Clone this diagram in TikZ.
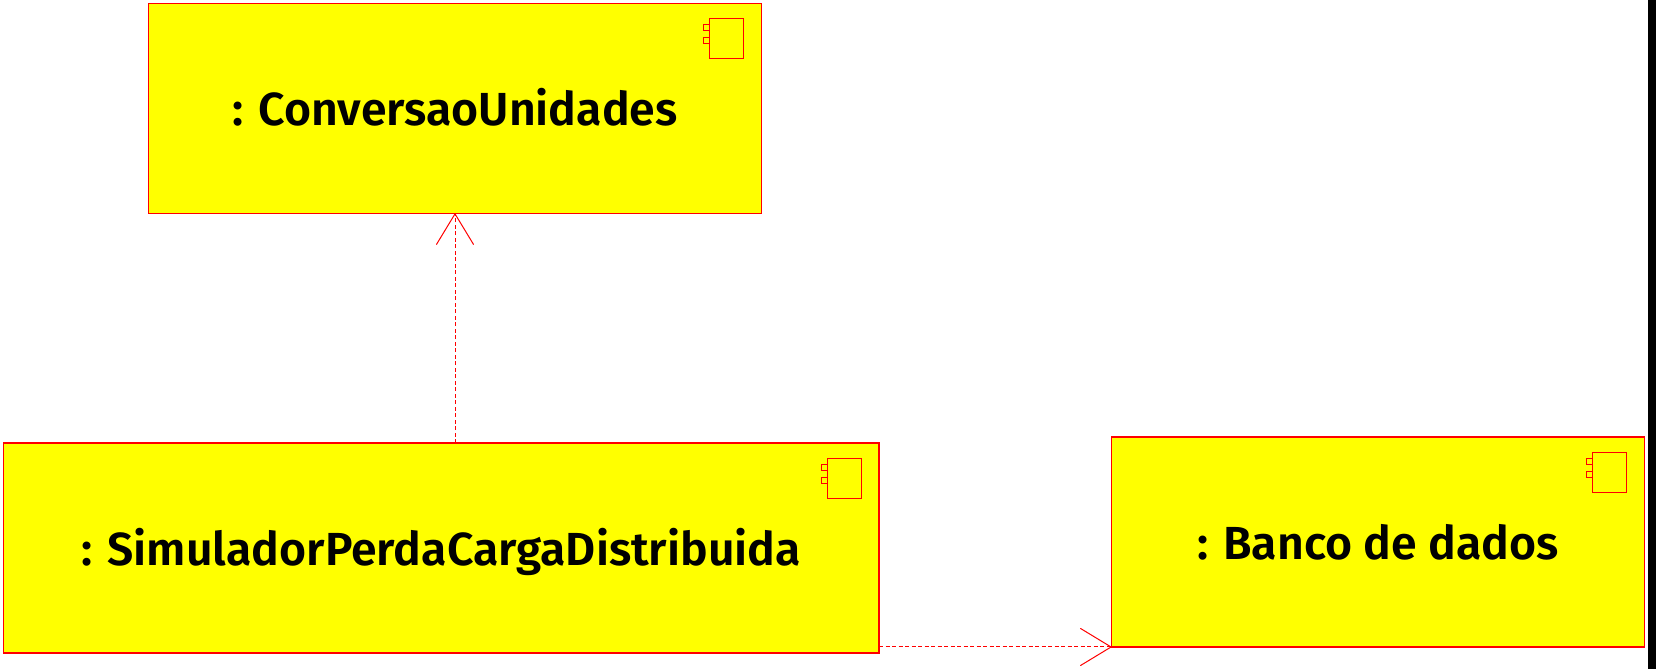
\documentclass[tikz,border=0pt]{standalone}
\usepackage{fontspec}
\setmainfont[BoldFont={Fira Sans SemiBold}]{Fira Sans}
\usetikzlibrary{arrows.meta}
\definecolor{compyellow}{RGB}{255,255,0}
\definecolor{compred}{RGB}{255,0,0}
\tikzset{
    component/.style={draw=compred,fill=compyellow,line width=0.026cm,outer sep=0pt,
        minimum height=4.2cm,text height=0.68cm,text depth=0pt,
        font=\fontsize{26.4}{30}\selectfont\bfseries},
    dependency/.style={draw=compred,line width=0.02cm,dash pattern=on 0.08cm off 0.05cm,
        -{Straight Barb[length=0.61cm,width=0.74cm,round]}},
    compicon/.pic={
        \draw[compred,line width=0.02cm] (-52,15.5) rectangle (-18,55.5);
        \draw[compred,line width=0.02cm] (-58,21.5) rectangle (-52,27.5);
        \draw[compred,line width=0.02cm] (-58,34.5) rectangle (-52,40.5);
    },
}
\begin{document}
\begin{tikzpicture}[x=0.02cm,y=-0.02cm]
\useasboundingbox (0,0) rectangle (1656,669);

% Black strip at the right edge
\fill[black] (1648,0) rectangle (1656,669);

% Components
\node[component,minimum width=12.26cm] (conv) at (455,108.4) {: ConversaoUnidades};
\node[component,minimum width=17.52cm] (sim) at (441.2,548) {: SimuladorPerdaCargaDistribuida};
\node[component,minimum width=10.66cm] (banco) at (1378,542) {: Banco de dados};

% Component icons
\pic at (conv.north east) {compicon};
\pic at (sim.north east) {compicon};
\pic at (banco.north east) {compicon};

% Dependencies
\draw[dependency] (conv.south |- sim.north) -- (conv.south);
\draw[dependency] (sim.east |- banco.south west) -- (banco.south west);

\end{tikzpicture}
\end{document}
